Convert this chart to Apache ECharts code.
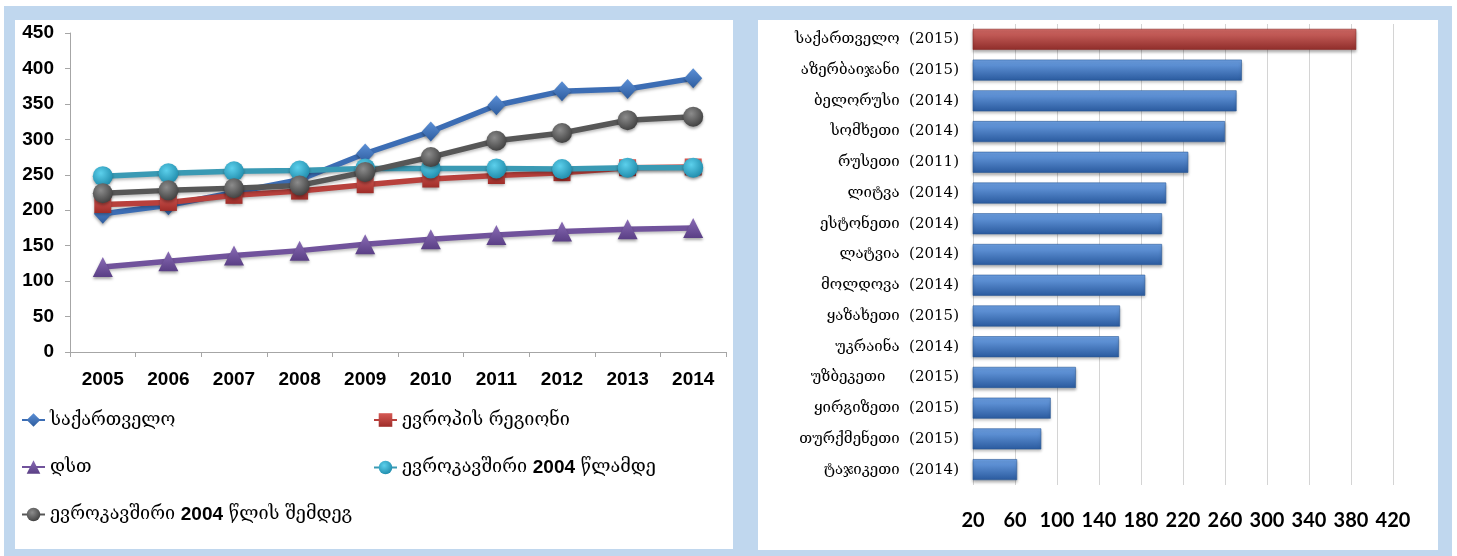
<!DOCTYPE html>
<html>
<head>
<meta charset="utf-8">
<script src="https://cdn.jsdelivr.net/npm/echarts@6/dist/echarts.min.js"></script>
<style>
  html, body { margin: 0; padding: 0; background: #fff; }
  #frame { position: absolute; left: 4px; top: 6px; width: 1448px; height: 550px; background: #c0d7ee; }
  .panel { position: absolute; background: #fff; }
  #chart { position: absolute; left: 0; top: 0; width: 1457px; height: 556px; }
</style>
</head>
<body>
<div id="frame"></div>
<div class="panel" style="left:15px;top:20px;width:718px;height:529px"></div>
<div class="panel" style="left:758px;top:20px;width:680px;height:530px"></div>
<div id="chart"></div>
<script>
// Hospital beds per 100 000 population, 2005-2014
const years = ['2005', '2006', '2007', '2008', '2009', '2010', '2011', '2012', '2013', '2014'];
const georgia      = [195, 207, 225, 243, 280, 311, 348, 368, 371, 386];
const europeRegion = [208, 211, 221, 227, 236, 244, 249, 253, 260, 261];
const cis          = [120, 128, 136, 143, 152, 159, 165, 170, 173, 175];
const euBefore2004 = [248, 252, 255, 256, 259, 259, 259, 258, 260, 260];
const euAfter2004  = [224, 228, 231, 235, 254, 275, 298, 309, 327, 332];
const seriesNames = [
  'საქართველო',
  'ევროპის რეგიონი',
  'დსთ',
  'ევროკავშირი 2004 წლამდე',
  'ევროკავშირი 2004 წლის შემდეგ'
];

// Latest available year by country
const countries = [
  'საქართველო  (2015)',
  'აზერბაიჯანი  (2015)',
  'ბელორუსი  (2014)',
  'სომხეთი  (2014)',
  'რუსეთი  (2011)',
  'ლიტვა  (2014)',
  'ესტონეთი  (2014)',
  'ლატვია  (2014)',
  'მოლდოვა  (2014)',
  'ყაზახეთი  (2015)',
  'უკრაინა  (2014)',
  'უზბეკეთი     (2015)',
  'ყირგიზეთი  (2015)',
  'თურქმენეთი  (2015)',
  'ტაჯიკეთი  (2014)'
];
const countryValues = [385, 276, 271, 260, 225, 204, 200, 200, 184, 160, 159, 118, 94, 85, 62];

const geoFont = 'DejaVu Serif';
const numFont = 'Liberation Sans';

function vgrad(top, bottom) {
  return new echarts.graphic.LinearGradient(0, 0, 0, 1, [
    { offset: 0, color: top }, { offset: 1, color: bottom }
  ]);
}
function ball(light, dark) {
  return new echarts.graphic.RadialGradient(0.4, 0.35, 0.7, [
    { offset: 0, color: light }, { offset: 1, color: dark }
  ]);
}

function lineSeries(name, data, lineColor, symbol, size, fill) {
  return {
    name: name,
    type: 'line',
    xAxisIndex: 0, yAxisIndex: 0,
    data: data,
    symbol: symbol,
    symbolSize: size,
    showAllSymbol: true,
    lineStyle: { color: lineColor, width: 5.5, shadowColor: 'rgba(0,0,0,0.25)', shadowBlur: 3, shadowOffsetY: 2 },
    itemStyle: { color: fill, borderWidth: 0, shadowColor: 'rgba(0,0,0,0.35)', shadowBlur: 3, shadowOffsetY: 2 },
    emphasis: { disabled: true }
  };
}

const legendText = {
  fontFamily: geoFont,
  fontSize: 18,
  color: '#000',
  rich: { b: { fontFamily: numFont, fontWeight: 'bold', fontSize: 19, color: '#000' } }
};
const legendFormatter = name => name.replace('2004', '{b|2004}');

const chart = echarts.init(document.getElementById('chart'), null, { renderer: 'canvas' });
chart.setOption({
  animation: false,
  backgroundColor: 'transparent',
  grid: [
    { left: 70, top: 33, width: 656, height: 319 },
    { left: 973, top: 24, width: 420, height: 461 }
  ],
  legend: [
    {
      data: [seriesNames[0], seriesNames[2], seriesNames[4]],
      orient: 'vertical', left: 16, top: 406,
      itemWidth: 23, itemHeight: 17, itemGap: 29,
      formatter: legendFormatter, textStyle: legendText,
      selectedMode: false
    },
    {
      data: [seriesNames[1], seriesNames[3]],
      orient: 'vertical', left: 368, top: 406,
      itemWidth: 23, itemHeight: 17, itemGap: 29,
      formatter: legendFormatter, textStyle: legendText,
      selectedMode: false
    }
  ],
  xAxis: [
    {
      type: 'category', gridIndex: 0, data: years,
      boundaryGap: true,
      axisLine: { lineStyle: { color: '#a6a6a6', width: 1 } },
      axisTick: { show: true, alignWithLabel: false, length: 5, lineStyle: { color: '#a6a6a6' } },
      axisLabel: { fontFamily: numFont, fontWeight: 'bold', fontSize: 19, color: '#000', margin: 18 },
      splitLine: { show: false }
    },
    {
      type: 'value', gridIndex: 1, min: 20, max: 420, interval: 40,
      axisLine: { show: false },
      axisTick: { show: false },
      axisLabel: { fontFamily: 'Lato', fontWeight: 'bold', fontSize: 20, color: '#000', margin: 26 },
      splitLine: { show: true, lineStyle: { color: '#d4d4d4', width: 1 } }
    }
  ],
  yAxis: [
    {
      type: 'value', gridIndex: 0, min: 0, max: 450, interval: 50,
      axisLine: { show: true, lineStyle: { color: '#a6a6a6', width: 1 } },
      axisTick: { show: true, length: 5, lineStyle: { color: '#a6a6a6' } },
      axisLabel: { fontFamily: numFont, fontWeight: 'bold', fontSize: 19, color: '#000', margin: 16 },
      splitLine: { show: false }
    },
    {
      type: 'category', gridIndex: 1, data: countries, inverse: true,
      axisLine: { show: false },
      axisTick: { show: false },
      axisLabel: { fontFamily: geoFont, fontSize: 15, color: '#000', margin: 14 }
    }
  ],
  series: [
    lineSeries(seriesNames[0], georgia, '#3c6db4', 'diamond', [18, 20],
      vgrad('#5b8fd6', '#2d5c9e')),
    lineSeries(seriesNames[1], europeRegion, '#b8403c', 'rect', 17,
      vgrad('#d65a55', '#9e2c28')),
    lineSeries(seriesNames[2], cis, '#71539c', 'triangle', 20,
      vgrad('#8a6cb6', '#5a3f85')),
    lineSeries(seriesNames[3], euBefore2004, '#3a9ab4', 'circle', 20,
      ball('#5cd0ec', '#1e8aaa')),
    lineSeries(seriesNames[4], euAfter2004, '#575757', 'circle', 20,
      ball('#8c8c8c', '#3e3e3e')),
    {
      name: 'bars',
      type: 'bar',
      xAxisIndex: 1, yAxisIndex: 1,
      barWidth: 21,
      data: countryValues.map((v, i) => ({
        value: v,
        itemStyle: {
          color: i === 0 ? vgrad('#d46a66', '#8f2d2a') : vgrad('#6ea2e6', '#2a5a9e'),
          borderColor: i === 0 ? '#8a2a27' : '#2b5a97',
          borderWidth: 0.6,
          shadowColor: 'rgba(0,0,0,0.3)', shadowBlur: 3, shadowOffsetY: 2
        }
      })),
      emphasis: { disabled: true }
    }
  ]
});
</script>
</body>
</html>
